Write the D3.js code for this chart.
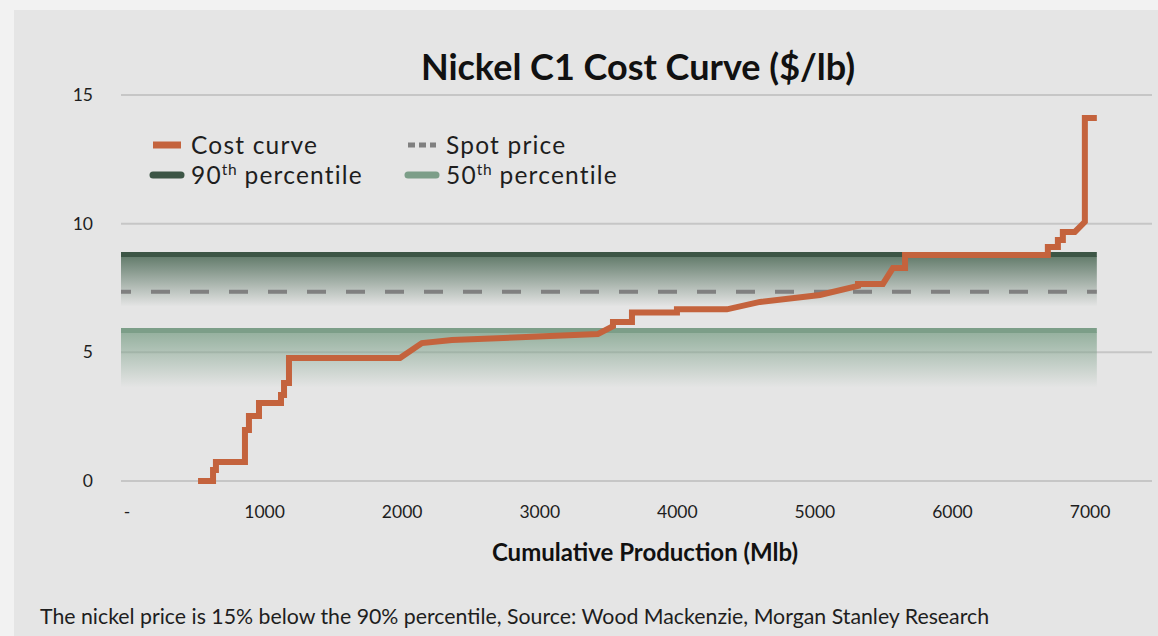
<!DOCTYPE html>
<html>
<head>
<meta charset="utf-8">
<script src="https://cdn.jsdelivr.net/npm/d3@7"></script>
<style>
  html, body { margin: 0; padding: 0; background: #f2f2f2; }
  svg { display: block; font-family: Lato, "Open Sans", sans-serif; }
</style>
</head>
<body>
<svg id="chart" width="1158" height="636"></svg>
<script>
// ---- data ----
const production = [520, 629, 629, 650, 650, 861, 861, 890, 890, 963, 963, 1123, 1123, 1145, 1145, 1181, 1181, 1988,
  2147, 2366, 3426, 3536, 3536, 3674, 3674, 4001, 4001, 4364, 4604, 5040, 5317, 5317, 5498, 5571, 5659, 5659,
  6697, 6697, 6770, 6770, 6806, 6806, 6893, 6966, 6966, 7053];
const cost = [0, 0, 0.43, 0.43, 0.74, 0.74, 1.98, 1.98, 2.53, 2.53, 3.03, 3.03, 3.34, 3.34, 3.81, 3.81, 4.78, 4.78,
  5.36, 5.48, 5.71, 6.02, 6.18, 6.18, 6.55, 6.55, 6.67, 6.67, 6.96, 7.23, 7.58, 7.66, 7.66, 8.28, 8.28, 8.78,
  8.78, 9.09, 9.09, 9.37, 9.37, 9.68, 9.68, 10.07, 14.11, 14.11];
const spotPrice = 7.35;
const percentile90 = 8.8;
const percentile50 = 5.85;
const xTicks = [0, 1000, 2000, 3000, 4000, 5000, 6000, 7000];
const yTicks = [0, 5, 10, 15];
const title = "Nickel C1 Cost Curve ($/lb)";
const xTitle = "Cumulative Production (Mlb)";
const footnote = "The nickel price is 15% below the 90% percentile, Source: Wood Mackenzie, Morgan Stanley Research";

// ---- layout ----
const svg = d3.select("#chart");
const W = 1158, H = 636;
const C = { curve: "#c4633d", p90: "#3c5545", p50: "#7c9e88", spot: "#808080", grid: "#c6c6c6", text: "#1e1e1e" };

const x = d3.scaleLinear().domain([-40, 7454]).range([121, 1152]);
const y = d3.scaleLinear().domain([0, 15]).range([481, 95]);

svg.append("rect").attr("x", 0).attr("y", 0).attr("width", W).attr("height", H).attr("fill", "#f2f2f2");
svg.append("rect").attr("x", 14).attr("y", 10).attr("width", W - 14).attr("height", H - 10).attr("fill", "#e5e5e5");

const defs = svg.append("defs");
function grad(id, color, op0) {
  const g = defs.append("linearGradient").attr("id", id).attr("x1", 0).attr("y1", 0).attr("x2", 0).attr("y2", 1);
  g.append("stop").attr("offset", 0).attr("stop-color", color).attr("stop-opacity", op0);
  g.append("stop").attr("offset", 1).attr("stop-color", color).attr("stop-opacity", 0);
}
grad("g90", "#4d6a57", 0.85);
grad("g50", "#7fa28b", 0.78);

// gridlines
svg.append("g").selectAll("line").data(yTicks).join("line")
  .attr("x1", x.range()[0]).attr("x2", x.range()[1])
  .attr("y1", d => y(d)).attr("y2", d => y(d))
  .attr("stroke", C.grid).attr("stroke-width", 2);

// percentile bands
const bandL = x.range()[0], bandR = x(production[production.length - 1]);
function band(val, id, lineColor, fade) {
  svg.append("rect").attr("x", bandL).attr("y", y(val) + 2).attr("width", bandR - bandL).attr("height", fade)
    .attr("fill", `url(#${id})`);
  svg.append("line").attr("x1", bandL).attr("x2", bandR).attr("y1", y(val)).attr("y2", y(val))
    .attr("stroke", lineColor).attr("stroke-width", 5);
}
band(percentile90, "g90", C.p90, 50);
band(percentile50, "g50", C.p50, 55);

// spot price
svg.append("line").attr("x1", bandL).attr("x2", bandR).attr("y1", y(spotPrice)).attr("y2", y(spotPrice))
  .attr("stroke", C.spot).attr("stroke-width", 4).attr("stroke-dasharray", "19 20").attr("stroke-dashoffset", 9);

// cost curve
const pts = production.map((p, i) => [p, cost[i]]);
svg.append("path").datum(pts)
  .attr("d", d3.line().x(d => x(d[0])).y(d => y(d[1])))
  .attr("fill", "none").attr("stroke", C.curve).attr("stroke-width", 6)
  .attr("stroke-linejoin", "miter").attr("stroke-linecap", "butt");

// y axis labels
const yAxis = svg.append("g").attr("transform", "translate(93,0)")
  .call(d3.axisLeft(y).tickValues(yTicks).tickSize(0).tickPadding(0));
yAxis.select(".domain").remove();
yAxis.selectAll("text").attr("font-family", "Lato").attr("font-size", 17.5).attr("fill", C.text);

// x axis labels
const xAxis = svg.append("g").attr("transform", "translate(0,506)")
  .call(d3.axisBottom(x).tickValues(xTicks).tickSize(0).tickPadding(0).tickFormat(d => d === 0 ? "-" : d));
xAxis.select(".domain").remove();
xAxis.selectAll("text").attr("font-family", "Lato").attr("font-size", 17.5).attr("fill", C.text);

// title
svg.append("text").attr("x", 638).attr("y", 80).attr("text-anchor", "middle")
  .attr("font-size", 36).attr("font-weight", 700).attr("fill", "#111").text(title);

// x title
svg.append("text").attr("x", 645).attr("y", 561).attr("text-anchor", "middle")
  .attr("font-size", 24).attr("font-weight", 700).attr("fill", "#111").text(xTitle);

// footnote
svg.append("text").attr("x", 40).attr("y", 624)
  .attr("font-size", 21.3).attr("fill", C.text).text(footnote);

// legend
const lg = svg.append("g");
function legendItem(x0, yc, label, sup, rest, style) {
  const l = lg.append("line").attr("x1", x0).attr("x2", x0 + 28).attr("y1", yc).attr("y2", yc)
    .attr("stroke", style.color).attr("stroke-width", style.w).attr("stroke-linecap", style.cap || "butt");
  if (style.dash) l.attr("stroke-dasharray", style.dash);
  const t = lg.append("text").attr("x", x0 + 38).attr("y", yc + 9).attr("font-size", 24.5)
    .attr("letter-spacing", 1.2).attr("fill", C.text);
  t.append("tspan").text(label);
  if (sup) {
    t.append("tspan").attr("font-size", 15.5).attr("letter-spacing", 0.5).attr("dy", -9).text(sup);
    t.append("tspan").attr("dy", 9).text(rest);
  }
}
legendItem(153, 145, "Cost curve", null, null, { color: C.curve, w: 7 });
legendItem(408, 145, "Spot price", null, null, { color: C.spot, w: 5, dash: "7 4" });
legendItem(153, 175, "90", "th", " percentile", { color: C.p90, w: 7, cap: "round" });
legendItem(408, 175, "50", "th", " percentile", { color: C.p50, w: 7, cap: "round" });
</script>
</body>
</html>
